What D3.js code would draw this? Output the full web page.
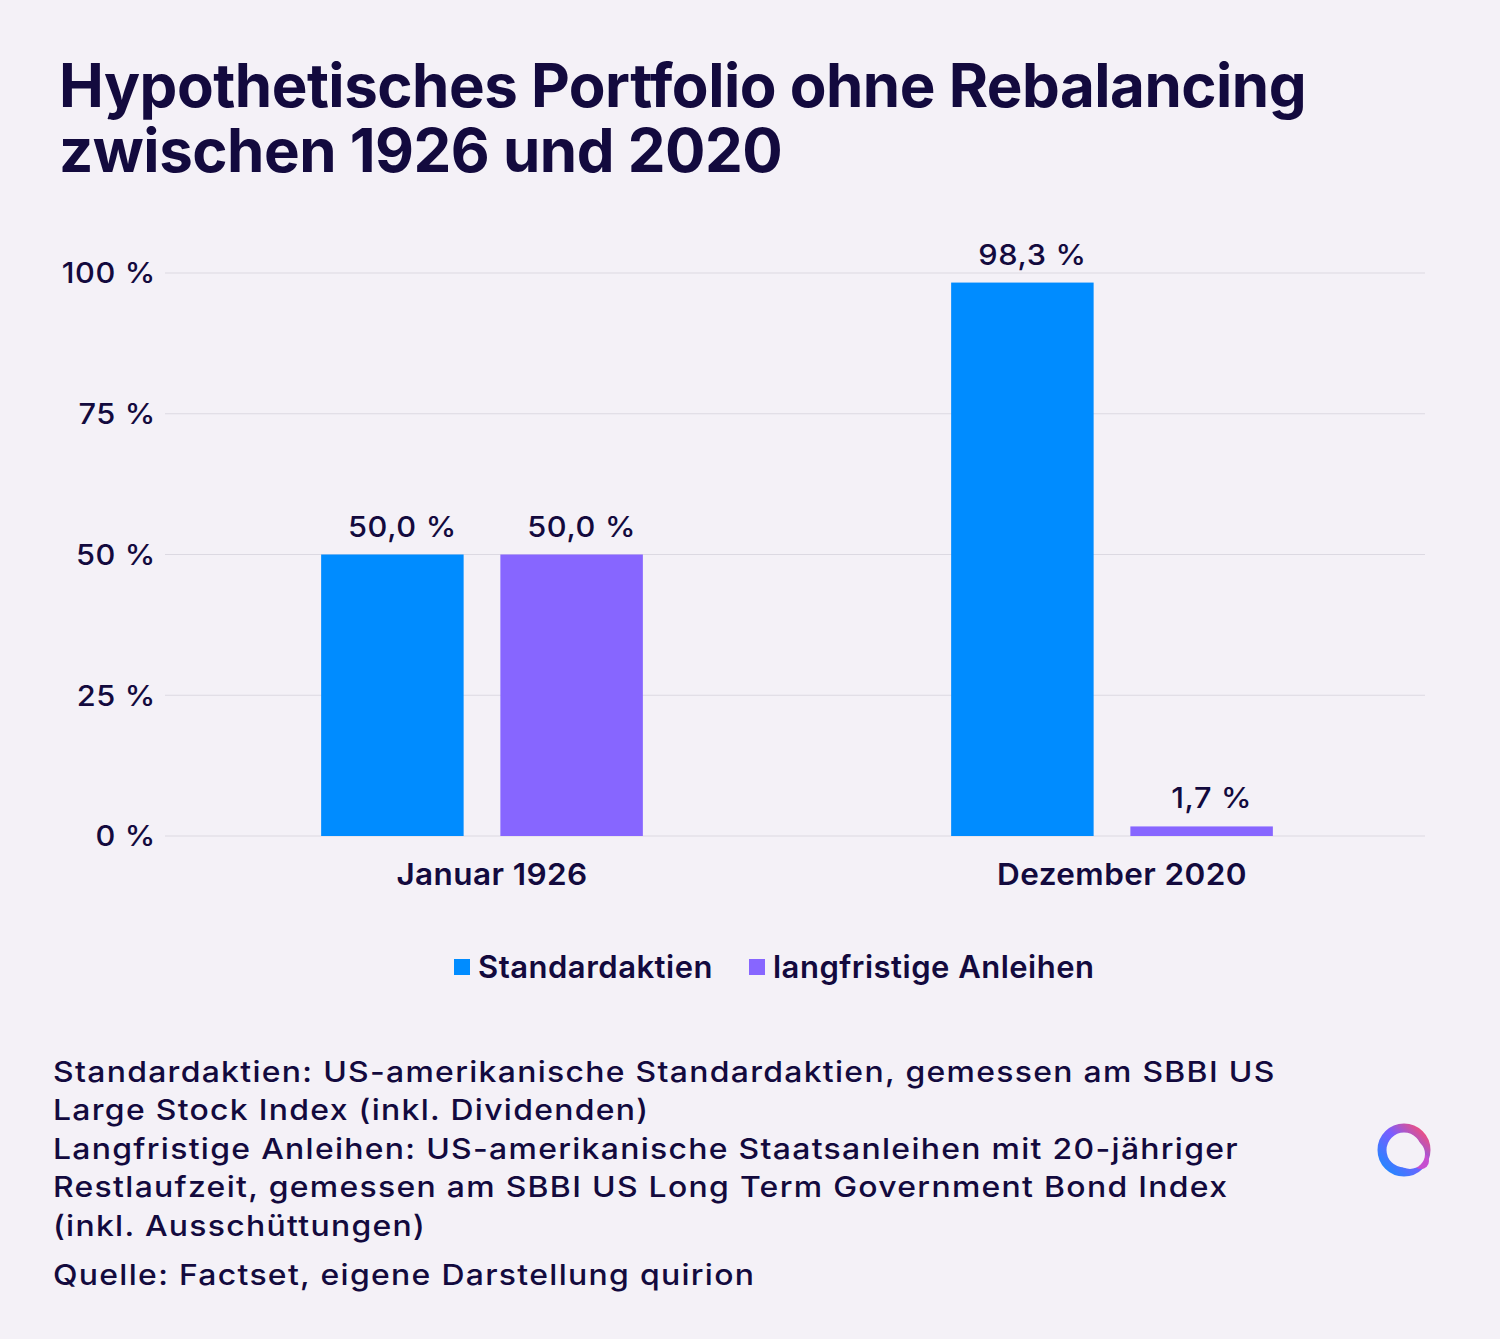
<!DOCTYPE html>
<html>
<head>
<meta charset="utf-8">
<script src="https://cdn.jsdelivr.net/npm/d3@7"></script>
<style>
    body { margin: 0; background: #f4f1f7; }
    svg { display: block; font-family: Inter, "Noto Sans", sans-serif; }
</style>
</head>
<body>
<script>
const categories = ["Januar 1926", "Dezember 2020"];
const seriesNames = ["Standardaktien", "langfristige Anleihen"];
const stocks = [50.0, 98.3];
const bonds = [50.0, 1.7];
const yTicks = [0, 25, 50, 75, 100];
const titleLines = ["Hypothetisches Portfolio ohne Rebalancing", "zwischen 1926 und 2020"];
const notes = [
    "Standardaktien: US-amerikanische Standardaktien, gemessen am SBBI US",
    "Large Stock Index (inkl. Dividenden)",
    "Langfristige Anleihen: US-amerikanische Staatsanleihen mit 20-jähriger",
    "Restlaufzeit, gemessen am SBBI US Long Term Government Bond Index",
    "(inkl. Ausschüttungen)"
];
const source = "Quelle: Factset, eigene Darstellung quirion";

const ink = "#130a3e";
const colors = d3.scaleOrdinal().domain(seriesNames).range(["#008cff", "#8766ff"]);
const fmt = v => v.toFixed(1).replace(".", ",") + " %";

const W = 1500, H = 1339;
const svg = d3.select("body").append("svg").attr("width", W).attr("height", H);
svg.append("rect").attr("width", W).attr("height", H).attr("fill", "#f4f1f7");

// title
svg.append("g").selectAll("text")
    .data(titleLines)
    .enter().append("text")
    .attr("x", 59)
    .attr("y", (d, i) => 107 + i * 65)
    .attr("font-size", 60)
    .attr("font-weight", 700)
    .attr("letter-spacing", -0.5)
    .attr("fill", ink)
    .text(d => d);

const x0 = d3.scaleBand().domain(categories).range([167, 1427]);
const x1 = d3.scaleBand().domain(seriesNames).range([0, x0.bandwidth()])
    .paddingInner(0.205).paddingOuter(0.86);
const y = d3.scaleLinear().domain([0, 100]).range([836, 273]);

// grid + y labels
const grid = svg.append("g");
grid.selectAll("line")
    .data(yTicks)
    .enter().append("line")
    .attr("x1", 165).attr("x2", 1425)
    .attr("y1", d => y(d)).attr("y2", d => y(d))
    .attr("stroke", "#dcd9e2")
    .attr("stroke-width", 1.2);
grid.selectAll("text")
    .data(yTicks)
    .enter().append("text")
    .attr("transform", d => "translate(156," + y(d) + ") scale(1.06,1)")
    .attr("dy", "0.36em")
    .attr("text-anchor", "end")
    .attr("font-size", 29)
    .attr("font-weight", 500)
    .attr("letter-spacing", 0.6)
    .attr("fill", ink)
    .text(d => d + " %");

// bars
const rows = categories.map((c, i) => ({
    cat: c,
    vals: [{ s: seriesNames[0], v: stocks[i] }, { s: seriesNames[1], v: bonds[i] }]
}));
const group = svg.append("g").selectAll("g")
    .data(rows)
    .enter().append("g")
    .attr("transform", d => "translate(" + x0(d.cat) + ",0)");
group.selectAll("rect")
    .data(d => d.vals)
    .enter().append("rect")
    .attr("x", d => x1(d.s))
    .attr("width", x1.bandwidth())
    .attr("y", d => y(d.v))
    .attr("height", d => y(0) - y(d.v))
    .attr("fill", d => colors(d.s));
group.selectAll("text")
    .data(d => d.vals)
    .enter().append("text")
    .attr("transform", d => "translate(" + (x1(d.s) + x1.bandwidth() / 2 + 10) + "," + (y(d.v) - 18) + ") scale(1.06,1)")
    .attr("text-anchor", "middle")
    .attr("font-size", 29)
    .attr("font-weight", 500)
    .attr("letter-spacing", 0.6)
    .attr("fill", ink)
    .text(d => fmt(d.v));

// category labels
svg.append("g").selectAll("text")
    .data(categories)
    .enter().append("text")
    .attr("transform", d => "translate(" + (x0(d) + x0.bandwidth() / 2 + 10) + ",885) scale(1.05,1)")
    .attr("text-anchor", "middle")
    .attr("font-size", 30)
    .attr("font-weight", 600)
    .attr("letter-spacing", 0.4)
    .attr("fill", ink)
    .text(d => d);

// legend
const legend = svg.append("g").attr("transform", "translate(454,967)");
const items = legend.selectAll("g")
    .data(seriesNames)
    .enter().append("g")
    .attr("transform", (d, i) => "translate(" + (i * 295) + ",0)");
items.append("rect")
    .attr("x", 0).attr("y", -8)
    .attr("width", 16).attr("height", 16)
    .attr("fill", d => colors(d));
items.append("text")
    .attr("x", 24)
    .attr("y", 0)
    .attr("dy", "0.36em")
    .attr("font-size", 31)
    .attr("font-weight", 600)
    .attr("letter-spacing", 0.5)
    .attr("fill", ink)
    .text(d => d);

// footnotes
const foot = svg.append("g").attr("transform", "translate(53,0) scale(1.1,1)");
foot.selectAll("text")
    .data(notes)
    .enter().append("text")
    .attr("x", 0)
    .attr("y", (d, i) => 1082 + i * 38.5)
    .attr("font-size", 29)
    .attr("font-weight", 500)
    .attr("letter-spacing", 1.2)
    .attr("fill", ink)
    .text(d => d);
foot.append("text")
    .attr("x", 0)
    .attr("y", 1285)
    .attr("font-size", 29)
    .attr("font-weight", 500)
    .attr("letter-spacing", 1.2)
    .attr("fill", ink)
    .text(source);

// logo
const defs = svg.append("defs");
const grad = defs.append("linearGradient").attr("id", "logoGrad")
    .attr("x1", "0%").attr("y1", "100%").attr("x2", "100%").attr("y2", "0%");
grad.append("stop").attr("offset", "0%").attr("stop-color", "#1a8cff");
grad.append("stop").attr("offset", "55%").attr("stop-color", "#7b5cff");
grad.append("stop").attr("offset", "100%").attr("stop-color", "#ff4d6d");
const logo = svg.append("g").attr("transform", "translate(1404,1150)");
logo.append("circle")
    .attr("r", 22)
    .attr("fill", "none")
    .attr("stroke", "url(#logoGrad)")
    .attr("stroke-width", 9);
logo.append("circle")
    .attr("cx", 17).attr("cy", 11)
    .attr("r", 8)
    .attr("fill", "#c64fd0");
logo.append("circle")
    .attr("cx", 6).attr("cy", 4)
    .attr("r", 15)
    .attr("fill", "#f4f1f7");
</script>
</body>
</html>
